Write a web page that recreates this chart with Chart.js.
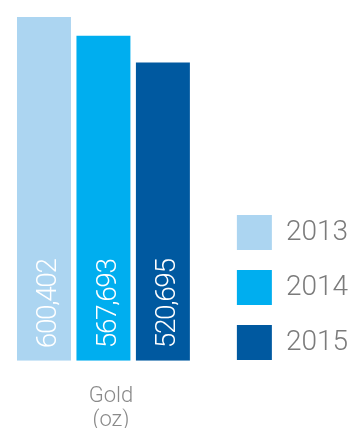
<!DOCTYPE html>
<html>
<head>
<meta charset="utf-8">
<script src="https://cdn.jsdelivr.net/npm/chart.js@4/dist/chart.umd.min.js"></script>
<style>
  html, body { margin: 0; padding: 0; background: #ffffff; }
  #wrap { width: 358px; height: 428px; }
</style>
</head>
<body>
<div id="wrap"><canvas id="chart" width="358" height="428"></canvas></div>
<script>
// Gold production by year (ounces)
const categories = [['Gold', '(oz)']];
const years = ['2013', '2014', '2015'];
const goldOz = [600402, 567693, 520695];
const yearColors = ['#acd5f1', '#00aeef', '#0059a0'];

const datasets = years.map((year, i) => ({
  label: year,
  data: [goldOz[i]],
  backgroundColor: yearColors[i],
  borderWidth: 0,
  categoryPercentage: 0.8623,
  barPercentage: 0.9076
}));

// Writes each bar's value vertically inside the bar, reading upward from its base
const barValueLabels = {
  id: 'barValueLabels',
  afterDatasetsDraw(chart) {
    const ctx = chart.ctx;
    ctx.save();
    ctx.font = '300 28px Roboto';
    ctx.fillStyle = '#ffffff';
    ctx.textAlign = 'left';
    ctx.textBaseline = 'alphabetic';
    if ('letterSpacing' in ctx) ctx.letterSpacing = '-1.4px';
    chart.data.datasets.forEach((ds, i) => {
      const meta = chart.getDatasetMeta(i);
      meta.data.forEach((bar, j) => {
        const text = Number(ds.data[j]).toLocaleString('en-US');
        ctx.save();
        ctx.translate(bar.x + 12.5, bar.base - 12.5);
        ctx.rotate(-Math.PI / 2);
        ctx.fillText(text, 0, 0);
        ctx.restore();
      });
    });
    ctx.restore();
  }
};

new Chart(document.getElementById('chart'), {
  type: 'bar',
  data: { labels: categories, datasets },
  options: {
    responsive: false,
    animation: false,
    layout: { padding: 0 },
    plugins: {
      tooltip: { enabled: false },
      legend: {
        position: 'right',
        align: 'start',
        // empty title used only as top spacing for the legend column
        title: {
          display: true,
          text: '',
          font: { size: 12, lineHeight: 1.2 },
          padding: { top: 180.6, bottom: 0 }
        },
        labels: {
          boxWidth: 35,
          boxHeight: 35,
          padding: 20,
          color: '#7b7b7b',
          font: { family: 'Roboto', size: 28, weight: 300 }
        }
      }
    },
    scales: {
      x: {
        grid: { display: false, drawTicks: false },
        border: { display: false },
        ticks: {
          color: '#8a8a8a',
          font: { family: 'Roboto', size: 22, weight: 300, lineHeight: 1.12 },
          padding: 23,
          labelOffset: 7.5,
          maxRotation: 0
        },
        afterFit(scale) { scale.height = 67.3; }
      },
      y: {
        display: false,
        position: 'right',
        min: 0,
        max: 630000,
        afterFit(scale) { scale.width = 10; }
      }
    }
  },
  plugins: [barValueLabels]
});
</script>
</body>
</html>
